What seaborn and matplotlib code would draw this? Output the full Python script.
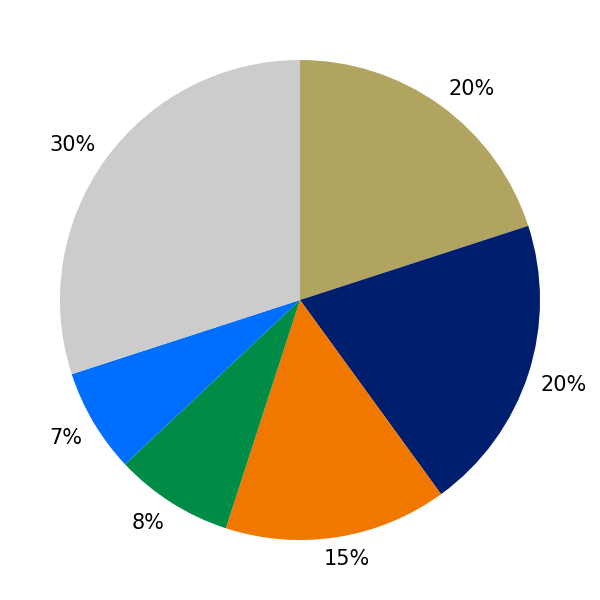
import matplotlib
matplotlib.use("Agg")
import numpy as np
import matplotlib.pyplot as plt
import seaborn as sns

sns.set_theme(style="white")
plt.rcParams['font.family'] = ['DejaVu Sans']

# slice shares, clockwise from 12 o'clock
shares = [20, 20, 15, 8, 7, 30]
colours = ["#b0a460", "#001e6e", "#f07800", "#008c46", "#006eff", "#cccccc"]

fig = plt.figure(figsize=(6, 6), dpi=100)
ax = fig.add_axes([0, 0, 1, 1])

wedges, texts, pcts = ax.pie(shares, colors=colours, startangle=90, counterclock=False,
                             autopct="%d%%", pctdistance=1.125,
                             textprops={"fontsize": 15, "color": "black"},
                             wedgeprops={"linewidth": 0})
ax.set_aspect("equal")
ax.set_xlim(-1.25, 1.25)
ax.set_ylim(-1.25, 1.25)
ax.axis("off")

# labels sit just outside the rim, pushed out by their own box
fig.canvas.draw()
renderer = fig.canvas.get_renderer()
unit = 240.0  # pixels per data unit
cap = 0.729 * 15 * 100 / 72 / 2 / unit  # half cap height
for w, t in zip(wedges, pcts):
    ang = np.deg2rad((w.theta1 + w.theta2) / 2)
    c, s = np.cos(ang), np.sin(ang)
    hw = t.get_window_extent(renderer).width / 2 / unit
    x = 1.055 * c + hw * np.clip(2 * c, -1, 1)
    y = 1.055 * s + cap * np.clip(2 * s, -1, 1)
    t.set_verticalalignment("baseline")
    t.set_position((x, y - cap))

fig.savefig("out.png", dpi=100, facecolor="white")
